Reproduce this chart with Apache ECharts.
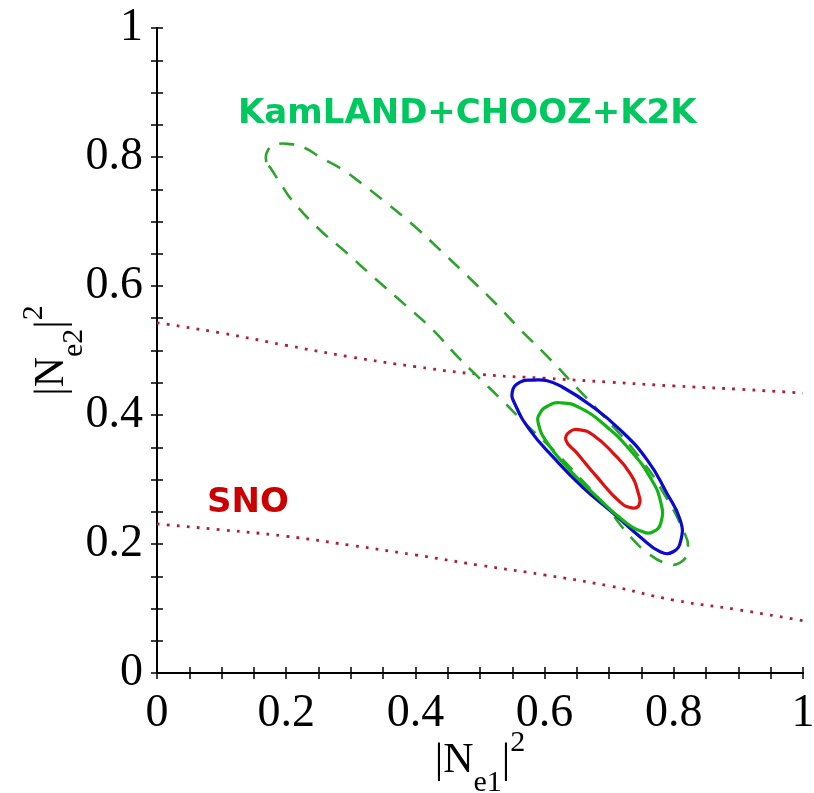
<!DOCTYPE html>
<html>
<head>
<meta charset="utf-8">
<script src="https://cdn.jsdelivr.net/npm/echarts@6/dist/echarts.min.js"></script>
<style>html,body{margin:0;padding:0;background:#fff}#c{width:814px;height:793px}</style>
</head>
<body>
<div id="c"></div>
<script>
// ---- data (|Ne1|^2, |Ne2|^2) ----
const tickLabels = ['0', '0.2', '0.4', '0.6', '0.8', '1'];
const snoUpper = [[0,0.543],[0.1,0.527],[0.2,0.508],[0.3,0.490],[0.4,0.475],[0.5,0.463],[0.6,0.457],[0.7,0.451],[0.8,0.445],[0.9,0.440],[1.0,0.434]];
const snoLower = [[0,0.231],[0.1,0.222],[0.2,0.212],[0.3,0.198],[0.4,0.183],[0.5,0.167],[0.6,0.152],[0.7,0.135],[0.8,0.113],[0.9,0.098],[1.0,0.081]];
const kamland = [[0.169,0.792],[0.172,0.811],[0.183,0.819],[0.206,0.820],[0.229,0.814],[0.252,0.800],[0.283,0.783],[0.314,0.761],[0.350,0.733],[0.396,0.695],[0.438,0.656],[0.480,0.616],[0.523,0.574],[0.563,0.532],[0.608,0.487],[0.649,0.443],[0.697,0.392],[0.748,0.333],[0.786,0.276],[0.814,0.222],[0.822,0.194],[0.810,0.171],[0.786,0.171],[0.760,0.186],[0.735,0.209],[0.693,0.260],[0.655,0.302],[0.616,0.343],[0.573,0.384],[0.531,0.426],[0.497,0.459],[0.461,0.495],[0.427,0.532],[0.385,0.570],[0.337,0.612],[0.294,0.651],[0.249,0.690],[0.209,0.733],[0.195,0.753],[0.175,0.784]];
const blueC = [[0.582,0.454],[0.604,0.453],[0.628,0.443],[0.670,0.416],[0.717,0.377],[0.759,0.330],[0.789,0.279],[0.810,0.237],[0.811,0.206],[0.799,0.188],[0.779,0.188],[0.748,0.211],[0.706,0.248],[0.659,0.288],[0.613,0.335],[0.577,0.377],[0.555,0.415],[0.550,0.436],[0.562,0.451]];
const greenC = [[0.593,0.403],[0.605,0.414],[0.624,0.419],[0.655,0.411],[0.697,0.381],[0.732,0.346],[0.763,0.304],[0.780,0.264],[0.780,0.233],[0.768,0.219],[0.752,0.219],[0.721,0.237],[0.675,0.279],[0.635,0.319],[0.604,0.357],[0.590,0.388]];
const redC = [[0.639,0.374],[0.655,0.377],[0.675,0.369],[0.706,0.341],[0.732,0.310],[0.745,0.279],[0.746,0.260],[0.735,0.256],[0.717,0.265],[0.681,0.304],[0.650,0.341],[0.633,0.361]];
const labelKam = 'KamLAND+CHOOZ+K2K';
const labelSno = 'SNO';

const serif = '"Liberation Serif","DejaVu Serif",serif';
function fmt(v) {
  const k = v * 5;
  if (Math.abs(k - Math.round(k)) > 1e-6) return '';
  return tickLabels[Math.round(k)];
}
const tickStyle = {show: true, inside: true, length: 6, lineStyle: {color: '#000', width: 1.5}};
const lineAx = {show: true, lineStyle: {color: '#000', width: 2}};
const richName = {
  a: {fontFamily: serif, fontSize: 42, color: '#000', lineHeight: 50},
  b: {fontFamily: serif, fontSize: 30, color: '#000', verticalAlign: 'bottom', lineHeight: 50, padding: [0,0,-12,0]},
  c: {fontFamily: serif, fontSize: 30, color: '#000', verticalAlign: 'top', lineHeight: 50, padding: [-8,0,0,0]}
};

function contour(pts, color, dash, width) {
  return {
    type: 'custom', data: pts, encode: {x: 0, y: 1}, silent: true, z: 3, clip: false,
    renderItem: function (params, api) {
      if (params.dataIndex !== 0) return null;
      const points = pts.map(function (p) { return api.coord(p); });
      return {type: 'polygon', shape: {points: points, smooth: 0.5},
        style: {fill: 'none', stroke: color, lineWidth: width, lineDash: dash}};
    }
  };
}
function curve(data, color, type, width) {
  return {type: 'line', data: data, showSymbol: false, symbol: 'none', smooth: true,
    lineStyle: {color: color, type: type, width: width}, silent: true, z: 2};
}

const chart = echarts.init(document.getElementById('c'), null, {renderer: 'canvas'});
chart.setOption({
  animation: false,
  grid: {left: 157, right: 11, top: 28, bottom: 120, show: false, containLabel: false, outerBoundsMode: 'none'},
  xAxis: [
    {type: 'value', min: 0, max: 1, interval: 0.05, position: 'bottom',
     axisLine: lineAx, axisTick: tickStyle, splitLine: {show: false},
     axisLabel: {formatter: fmt, fontFamily: serif, fontSize: 46, color: '#000', margin: 18, showMinLabel: true, showMaxLabel: true},
     name: '{a||N}{b|e1}{a||}{c|2}', nameLocation: 'middle', nameGap: 63, nameMoveOverlap: false,
     nameTextStyle: {rich: richName}},
    {type: 'value', min: 0, max: 1, interval: 0.05, position: 'top',
     axisLine: lineAx, axisTick: tickStyle, splitLine: {show: false}, axisLabel: {show: false}}
  ],
  yAxis: [
    {type: 'value', min: 0, max: 1, interval: 0.05, position: 'left',
     axisLine: lineAx, axisTick: tickStyle, splitLine: {show: false},
     axisLabel: {formatter: fmt, fontFamily: serif, fontSize: 46, color: '#000', margin: 14, showMinLabel: true, showMaxLabel: true},
     name: '{a||N}{b|e2}{a||}{c|2}', nameLocation: 'middle', nameGap: 80, nameRotate: 90, nameMoveOverlap: false,
     nameTextStyle: {rich: richName}},
    {type: 'value', min: 0, max: 1, interval: 0.05, position: 'right',
     axisLine: lineAx, axisTick: tickStyle, splitLine: {show: false}, axisLabel: {show: false}}
  ],
  series: [
    curve(snoUpper, '#aa2238', [2.8, 7.2], 2.8),
    curve(snoLower, '#aa2238', [2.8, 7.2], 2.8),
    contour(kamland, '#2ea32e', [15, 11], 2.6),
    contour(blueC, '#0a0ad2', null, 3.2),
    contour(greenC, '#12b412', null, 3.2),
    contour(redC, '#e01010', null, 3.2)
  ],
  graphic: [
    {type: 'text', left: 238, top: 97, silent: true,
     style: {text: labelKam, fill: '#00c85f', font: 'bold 34px "DejaVu Sans", sans-serif'}},
    {type: 'text', left: 207, top: 486, silent: true,
     style: {text: labelSno, fill: '#cc0000', font: 'bold 34px "DejaVu Sans", sans-serif'}}
  ]
});
</script>
</body>
</html>
